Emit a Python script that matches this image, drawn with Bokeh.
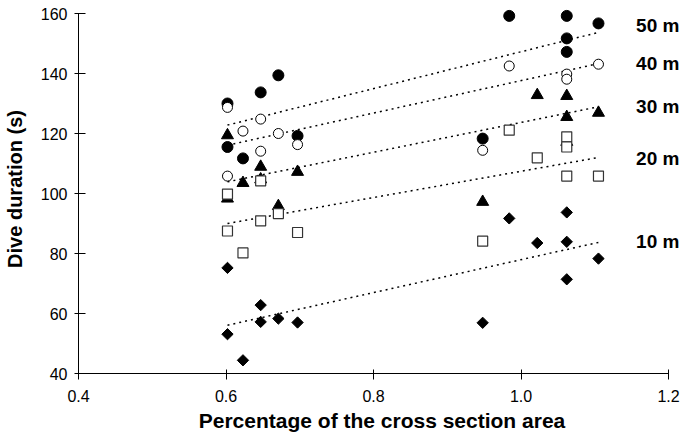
import math
from bokeh.plotting import figure
from bokeh.models import Range1d, FixedTicker, PrintfTickFormatter, ColumnDataSource
from bokeh.core.properties import value
from bokeh.embed import file_html
from bokeh.resources import INLINE

# 50 m (filled circles)
x50 = [0.602, 0.602, 0.623, 0.647, 0.671, 0.697, 0.948, 0.984, 1.062, 1.062, 1.062, 1.105]
y50 = [130.0, 115.5, 111.7, 133.7, 139.4, 119.2, 118.3, 159.2, 159.2, 151.7, 147.2, 156.7]
# 40 m (open circles)
x40 = [0.602, 0.602, 0.623, 0.647, 0.647, 0.671, 0.697, 0.948, 0.984, 1.062, 1.062, 1.105]
y40 = [128.7, 105.8, 120.8, 124.8, 114.1, 120.0, 116.3, 114.4, 142.5, 139.8, 138.1, 143.1]
# 30 m (filled triangles)
x30 = [0.602, 0.602, 0.623, 0.647, 0.647, 0.671, 0.697, 0.948, 1.022, 1.062, 1.062, 1.062, 1.105]
y30 = [119.4, 98.3, 103.5, 108.9, 104.7, 95.8, 107.2, 97.2, 132.8, 132.5, 125.5, 117.2, 126.9]
# 20 m (open squares)
x20 = [0.602, 0.602, 0.623, 0.647, 0.647, 0.671, 0.697, 0.948, 0.984, 1.022, 1.062, 1.062, 1.062, 1.105]
y20 = [99.8, 87.5, 80.2, 104.2, 90.9, 93.3, 87.0, 84.1, 121.1, 111.9, 118.9, 115.5, 105.8, 105.8]
# 10 m (filled diamonds)
x10 = [0.602, 0.602, 0.623, 0.647, 0.647, 0.671, 0.697, 0.948, 0.984, 1.022, 1.062, 1.062, 1.062, 1.105]
y10 = [75.2, 53.1, 44.4, 62.8, 57.2, 58.3, 57.0, 56.9, 91.7, 83.5, 93.7, 83.9, 71.4, 78.3]

# trend lines (50, 40, 30, 20, 10 m)
trend_x = [0.602, 1.105]
trend_start = [122.8, 116.1, 103.9, 90.0, 56.1]
trend_end = [153.7, 143.3, 128.9, 112.0, 83.7]

depth_labels = ["50 m", "40 m", "30 m", "20 m", "10 m"]
label_y = [156.1, 143.4, 128.9, 111.7, 84.1]
label_x = 1.156

x_ticks = [0.4, 0.6, 0.8, 1.0, 1.2]
y_ticks = [40, 60, 80, 100, 120, 140, 160]

FONT = "Liberation Sans"

p = figure(width=685, height=439, output_backend="svg", toolbar_location=None,
           x_range=Range1d(0.4, 1.223), y_range=Range1d(40, 163),
           min_border_left=78, min_border_right=0, min_border_top=4, min_border_bottom=66)
p.grid.visible = False
p.outline_line_color = None
p.background_fill_color = "white"
p.border_fill_color = "white"

for s, e in zip(trend_start, trend_end):
    p.line(trend_x, [s, e], line_color="black", line_width=1.5, line_dash="2 4")

p.scatter(x50, y50, marker="circle", size=11, fill_color="black", line_color="black")
p.scatter(x40, y40, marker="circle", size=10, fill_color="white", line_color="black", line_width=1)
p.scatter(x30, y30, marker="triangle", size=12, fill_color="black", line_color="black")
p.scatter(x20, y20, marker="square", size=10, fill_color="white", line_color="#333333", line_width=1.2)
p.scatter(x10, y10, marker="square", size=8, angle=math.pi / 4, fill_color="black", line_color="black")

src = ColumnDataSource(dict(x=[label_x] * len(depth_labels), y=label_y, t=depth_labels))
p.text(x="x", y="y", text="t", source=src, text_font=value(FONT), text_font_size="19px",
       text_font_style="bold", text_baseline="middle", text_align="left", text_color="black")

for ax in (p.xaxis[0], p.yaxis[0]):
    ax.axis_line_color = "black"
    ax.major_tick_line_color = "black"
    ax.minor_tick_line_color = None
    ax.major_label_text_font = FONT
    ax.major_label_text_font_size = "16px"
    ax.major_label_text_color = "black"
    ax.axis_label_text_font = FONT
    ax.axis_label_text_font_style = "bold"
    ax.axis_label_text_color = "black"

p.xaxis.ticker = FixedTicker(ticks=x_ticks)
p.xaxis.formatter = PrintfTickFormatter(format="%.1f")
p.xaxis.bounds = (0.4, 1.2)
p.xaxis.major_tick_in = 4
p.xaxis.major_tick_out = 6
p.xaxis.major_label_standoff = 10
p.xaxis.axis_label = "Percentage of the cross section area"
p.xaxis.axis_label_text_font_size = "21px"
p.xaxis.axis_label_standoff = 4

p.yaxis.ticker = FixedTicker(ticks=y_ticks)
p.yaxis.bounds = (40, 160)
p.yaxis.major_tick_in = 7
p.yaxis.major_tick_out = 4
p.yaxis.major_label_standoff = 7
p.yaxis.axis_label = "Dive duration (s)"
p.yaxis.axis_label_text_font_size = "20px"
p.yaxis.axis_label_standoff = 12

open("out.html", "w").write(file_html(p, INLINE))
